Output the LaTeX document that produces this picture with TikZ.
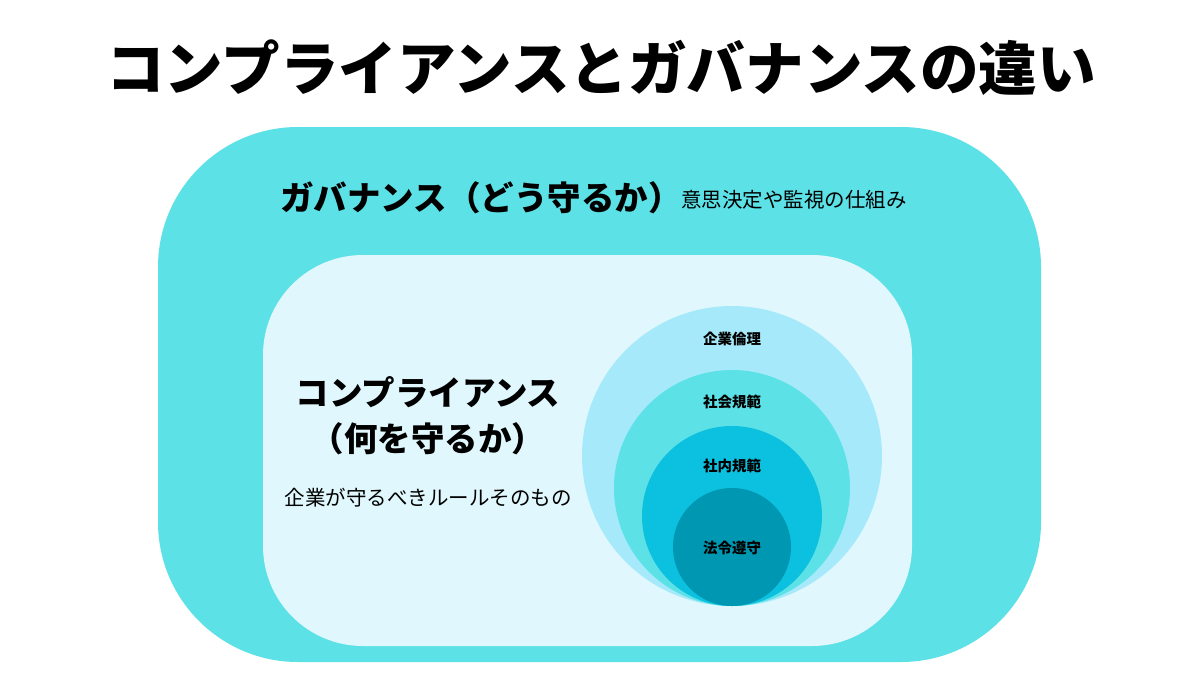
\documentclass[tikz,border=0pt]{standalone}
\usepackage{fontspec}
\setmainfont{Noto Sans CJK JP}
\definecolor{govfill}{HTML}{5CE1E6}
\definecolor{compfill}{HTML}{E0F8FD}
\definecolor{ringA}{HTML}{A6E9FA}
\definecolor{ringB}{HTML}{5CE1E6}
\definecolor{ringC}{HTML}{0CC0DF}
\definecolor{ringD}{HTML}{0097B2}
\tikzset{
  lbl/.style={inner sep=0pt, text=black},
  title/.style={lbl, font=\fontsize{58.6}{62}\selectfont\bfseries},
  head/.style={lbl, font=\fontsize{33.5}{37}\selectfont\bfseries},
  sub/.style={lbl, font=\fontsize{20.5}{24}\selectfont},
  ringlbl/.style={lbl, font=\fontsize{14.5}{16}\selectfont\bfseries},
}
\begin{document}
\begin{tikzpicture}[x=1pt,y=-1pt]
\useasboundingbox (0,0) rectangle (1200,675);
\fill[white] (0,0) rectangle (1200,675);
% title
\node[title] (title) at (601,68) {コンプライアンスとガバナンスの違い};
% governance box
\fill[govfill, rounded corners=140pt] (158,127) rectangle (1041,662);
\node[head, anchor=west] (gov) at (280,198) {ガバナンス（どう守るか）};
\node[sub, anchor=west] (govsub) at (681,200) {意思決定や監視の仕組み};
% compliance box
\fill[compfill, rounded corners=100pt] (263,255) rectangle (912,646);
\node[head] (comp1) at (428,392) {コンプライアンス};
\node[head] (comp2) at (428,439) {（何を守るか）};
\node[sub] (compsub) at (428,498) {企業が守るべきルールそのもの};
% nested circles
\fill[ringA] (732,456) circle (150pt);
\fill[ringB] (732,488) circle (118pt);
\fill[ringC] (732,516) circle (90pt);
\fill[ringD] (732,547) circle (59pt);
\node[ringlbl] (r1) at (732,339) {企業倫理};
\node[ringlbl] (r2) at (732,402) {社会規範};
\node[ringlbl] (r3) at (732,466) {社内規範};
\node[ringlbl] (r4) at (732,548) {法令遵守};
\end{tikzpicture}
\end{document}
